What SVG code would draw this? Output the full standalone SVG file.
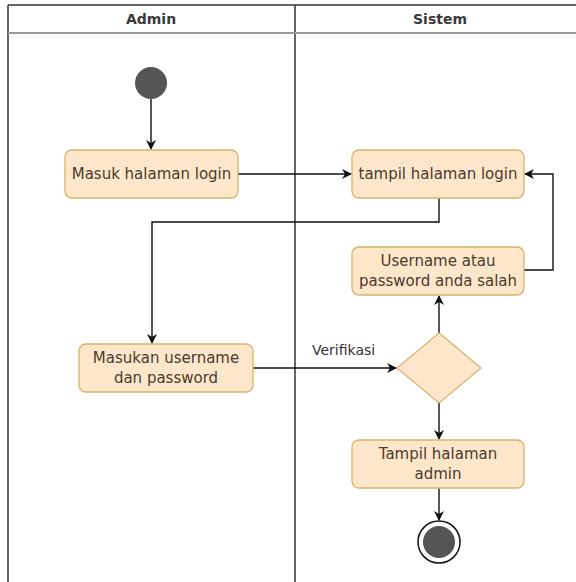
<svg xmlns="http://www.w3.org/2000/svg" width="576" height="582" viewBox="0 0 576 582">
<defs>
<marker id="arr" viewBox="0 0 10 10" refX="9" refY="5" markerWidth="10" markerHeight="10" markerUnits="userSpaceOnUse" orient="auto">
<path d="M0,0 L10,5 L0,10 L3,5 Z" fill="#111"/>
</marker>
</defs>
<style>
.box{fill:#fee6cb;stroke:#d8b36e;stroke-width:1.3}
.t{font-family:"DejaVu Sans",sans-serif;font-size:15px;fill:#4a3b2c;text-anchor:middle}
.h{font-family:"DejaVu Sans",sans-serif;font-size:14px;font-weight:bold;fill:#3a3a3a;text-anchor:middle}
.c{fill:none;stroke:#111;stroke-width:1.4;marker-end:url(#arr)}
.frame{fill:none;stroke:#333;stroke-width:1.5}
</style>
<rect width="576" height="582" fill="#fff"/>
<g id="pool">
<line class="frame" x1="8" y1="5" x2="8" y2="582"/>
<line class="frame" x1="8" y1="5" x2="576" y2="5"/>
<line class="frame" x1="295" y1="5" x2="295" y2="582"/>
<line x1="8" y1="33" x2="576" y2="33" stroke="#999" stroke-width="2"/>
<text class="h" x="151" y="24">Admin</text>
<text class="h" x="440" y="24">Sistem</text>
</g>
<g id="connectors">
<line class="c" x1="151" y1="99" x2="151" y2="149"/>
<line class="c" x1="238" y1="174" x2="351" y2="174"/>
<polyline class="c" points="439,198 439,222 152,222 152,343"/>
<line class="c" x1="253" y1="368" x2="396" y2="368"/>
<text x="312" y="355" style="font-family:'DejaVu Sans',sans-serif;font-size:14px;fill:#333">Verifikasi</text>
<line class="c" x1="439" y1="333" x2="439" y2="296"/>
<polyline class="c" points="524,270 553,270 553,174 525,174"/>
<line class="c" x1="439" y1="403" x2="439" y2="439"/>
<line class="c" x1="439" y1="488" x2="439" y2="520"/>
</g>
<g id="start"><circle cx="151" cy="83" r="16" fill="#555"/></g>
<g id="masuk"><rect class="box" x="65" y="150" width="173" height="48" rx="7"/><text class="t" x="151.5" y="179">Masuk halaman login</text></g>
<g id="tampil"><rect class="box" x="352" y="150" width="172" height="48" rx="7"/><text class="t" x="438" y="179">tampil halaman login</text></g>
<g id="salah"><rect class="box" x="352" y="247" width="172" height="48" rx="7"/><text class="t" x="438" y="266">Username atau</text><text class="t" x="438" y="286">password anda salah</text></g>
<g id="masukan"><rect class="box" x="79" y="344" width="174" height="48" rx="7"/><text class="t" x="166" y="363">Masukan username</text><text class="t" x="166" y="383">dan password</text></g>
<g id="verifikasi"><polygon class="box" points="439,333 481,368 439,403 397,368"/></g>
<g id="admin"><rect class="box" x="352" y="440" width="172" height="48" rx="7"/><text class="t" x="438" y="459">Tampil halaman</text><text class="t" x="438" y="479">admin</text></g>
<g id="end"><circle cx="439" cy="542" r="21" fill="#fff" stroke="#111" stroke-width="1.5"/><circle cx="439" cy="542" r="16" fill="#555"/></g>
</svg>
